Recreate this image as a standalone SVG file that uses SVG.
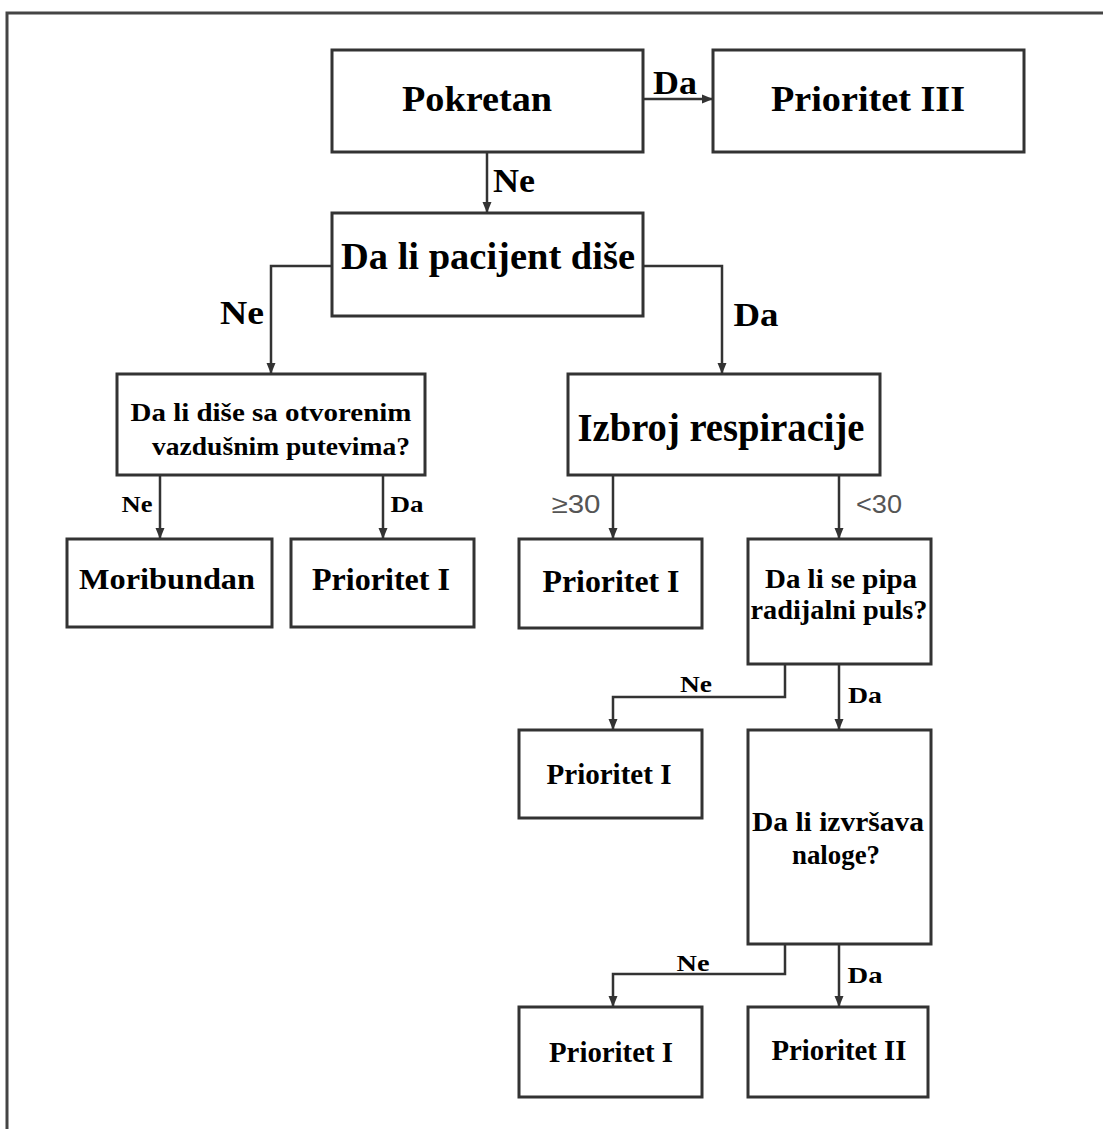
<svg xmlns="http://www.w3.org/2000/svg" width="1103" height="1129" viewBox="0 0 1103 1129">
  <defs>
    <marker id="arrow" markerUnits="userSpaceOnUse" markerWidth="12" markerHeight="12" viewBox="0 0 12 12" refX="11" refY="6" orient="auto">
      <path d="M0,1.5 L11,6 L0,10.5 Z" fill="#333"/>
    </marker>
    <style>
      .box { fill: #fff; stroke: #333; stroke-width: 3; }
      .conn { fill: none; stroke: #333; stroke-width: 2.5; marker-end: url(#arrow); }
      .t { font-family: "Liberation Serif", "Times New Roman", serif; font-weight: bold; fill: #000; text-anchor: middle; }
      .s { font-family: "Liberation Sans", Arial, sans-serif; fill: #555; text-anchor: middle; }
    </style>
  </defs>

  <rect width="1103" height="1129" fill="#fff"/>

  <!-- frame -->
  <path d="M7,1129 L7,13 L1103,13" fill="none" stroke="#444" stroke-width="3"/>

  <!-- connectors -->
  <g id="connectors">
    <path class="conn" d="M643,99 L713,99"/>
    <path class="conn" d="M487,152 L487,213"/>
    <path class="conn" d="M332,266 L271,266 L271,374"/>
    <path class="conn" d="M643,266 L722,266 L722,374"/>
    <path class="conn" d="M160,475 L160,539"/>
    <path class="conn" d="M383,475 L383,539"/>
    <path class="conn" d="M613,475 L613,539"/>
    <path class="conn" d="M839,475 L839,539"/>
    <path class="conn" d="M785,664 L785,697 L613,697 L613,730"/>
    <path class="conn" d="M839,664 L839,730"/>
    <path class="conn" d="M785,944 L785,974 L613,974 L613,1007"/>
    <path class="conn" d="M839,944 L839,1007"/>

    <text class="t" x="675" y="94" font-size="33" textLength="44" lengthAdjust="spacingAndGlyphs">Da</text>
    <text class="t" x="514" y="192" font-size="34" textLength="42" lengthAdjust="spacingAndGlyphs">Ne</text>
    <text class="t" x="242" y="324" font-size="34" textLength="44" lengthAdjust="spacingAndGlyphs">Ne</text>
    <text class="t" x="756" y="326" font-size="34" textLength="45" lengthAdjust="spacingAndGlyphs">Da</text>
    <text class="t" x="137" y="512" font-size="23" textLength="31" lengthAdjust="spacingAndGlyphs">Ne</text>
    <text class="t" x="407" y="512" font-size="23" textLength="33" lengthAdjust="spacingAndGlyphs">Da</text>
    <text class="s" x="576" y="513" font-size="26" textLength="49" lengthAdjust="spacingAndGlyphs">≥30</text>
    <text class="s" x="879" y="513" font-size="26" textLength="46" lengthAdjust="spacingAndGlyphs">&lt;30</text>
    <text class="t" x="696" y="692" font-size="24" textLength="32" lengthAdjust="spacingAndGlyphs">Ne</text>
    <text class="t" x="865" y="703" font-size="24" textLength="34" lengthAdjust="spacingAndGlyphs">Da</text>
    <text class="t" x="693" y="971" font-size="24" textLength="33" lengthAdjust="spacingAndGlyphs">Ne</text>
    <text class="t" x="865" y="983" font-size="24" textLength="35" lengthAdjust="spacingAndGlyphs">Da</text>
  </g>

  <g id="pokretan">
    <rect class="box" x="332" y="50" width="311" height="102"/>
    <text class="t" x="477" y="111" font-size="35" textLength="150" lengthAdjust="spacingAndGlyphs">Pokretan</text>
  </g>

  <g id="prioritet-iii">
    <rect class="box" x="713" y="50" width="311" height="102"/>
    <text class="t" x="868" y="111" font-size="35" textLength="194" lengthAdjust="spacingAndGlyphs">Prioritet III</text>
  </g>

  <g id="disanje">
    <rect class="box" x="332" y="213" width="311" height="103"/>
    <text class="t" x="488" y="269" font-size="37" textLength="294" lengthAdjust="spacingAndGlyphs">Da li pacijent diše</text>
  </g>

  <g id="disajni-putevi">
    <rect class="box" x="117" y="374" width="308" height="101"/>
    <text class="t" x="271" y="421" font-size="26" textLength="281" lengthAdjust="spacingAndGlyphs">Da li diše sa otvorenim</text>
    <text class="t" x="281" y="455" font-size="26" textLength="258" lengthAdjust="spacingAndGlyphs">vazdušnim putevima?</text>
  </g>

  <g id="respiracije">
    <rect class="box" x="568" y="374" width="312" height="101"/>
    <text class="t" x="721" y="441" font-size="41" textLength="287" lengthAdjust="spacingAndGlyphs">Izbroj respiracije</text>
  </g>

  <g id="moribundan">
    <rect class="box" x="67" y="539" width="205" height="88"/>
    <text class="t" x="167" y="589" font-size="30" textLength="176" lengthAdjust="spacingAndGlyphs">Moribundan</text>
  </g>

  <g id="prioritet-i-a">
    <rect class="box" x="291" y="539" width="183" height="88"/>
    <text class="t" x="381" y="590" font-size="31" textLength="138" lengthAdjust="spacingAndGlyphs">Prioritet I</text>
  </g>

  <g id="prioritet-i-b">
    <rect class="box" x="519" y="539" width="183" height="89"/>
    <text class="t" x="611" y="592" font-size="31" textLength="137" lengthAdjust="spacingAndGlyphs">Prioritet I</text>
  </g>

  <g id="radijalni-puls">
    <rect class="box" x="748" y="539" width="183" height="125"/>
    <text class="t" x="841" y="588" font-size="28" textLength="152" lengthAdjust="spacingAndGlyphs">Da li se pipa</text>
    <text class="t" x="839" y="619" font-size="28" textLength="177" lengthAdjust="spacingAndGlyphs">radijalni puls?</text>
  </g>

  <g id="prioritet-i-c">
    <rect class="box" x="519" y="730" width="183" height="88"/>
    <text class="t" x="609" y="784" font-size="29" textLength="125" lengthAdjust="spacingAndGlyphs">Prioritet I</text>
  </g>

  <g id="nalozi">
    <rect class="box" x="748" y="730" width="183" height="214"/>
    <text class="t" x="838" y="831" font-size="28" textLength="172" lengthAdjust="spacingAndGlyphs">Da li izvršava</text>
    <text class="t" x="836" y="864" font-size="28" textLength="88" lengthAdjust="spacingAndGlyphs">naloge?</text>
  </g>

  <g id="prioritet-i-d">
    <rect class="box" x="519" y="1007" width="183" height="90"/>
    <text class="t" x="611" y="1062" font-size="29" textLength="124" lengthAdjust="spacingAndGlyphs">Prioritet I</text>
  </g>

  <g id="prioritet-ii">
    <rect class="box" x="748" y="1007" width="180" height="90"/>
    <text class="t" x="839" y="1060" font-size="29" textLength="135" lengthAdjust="spacingAndGlyphs">Prioritet II</text>
  </g>
</svg>
